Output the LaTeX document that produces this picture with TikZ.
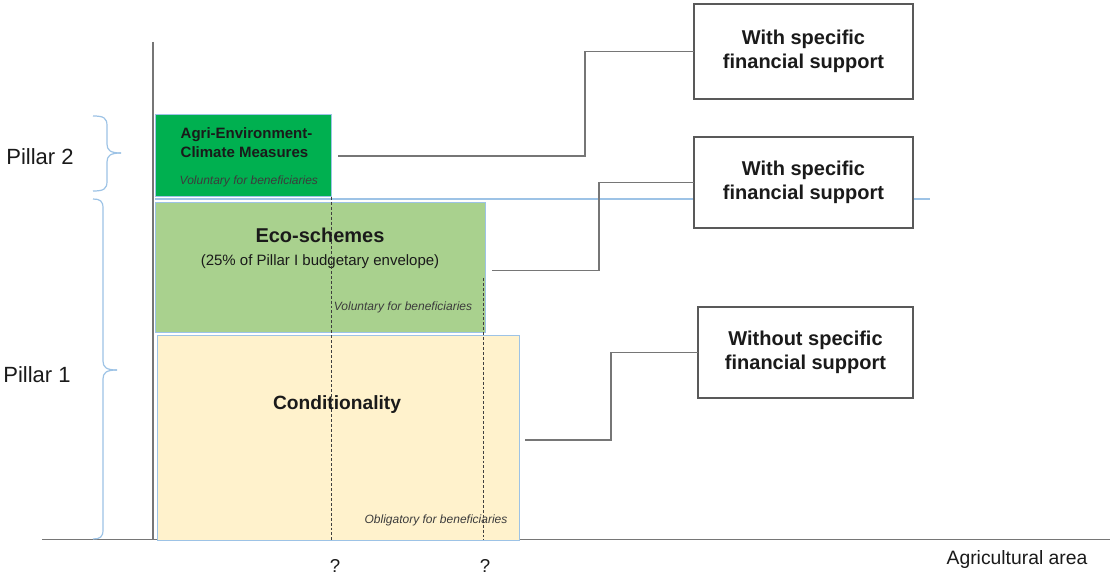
\documentclass[tikz,border=0pt]{standalone}
\usepackage{fontspec}
\setmainfont{Liberation Sans}
\usetikzlibrary{calc}
\definecolor{aecmgreen}{HTML}{00B050}
\definecolor{ecogreen}{HTML}{A9D18E}
\definecolor{condyellow}{HTML}{FFF2CC}
\definecolor{edgeblue}{HTML}{9DC3E6}
\definecolor{linegray}{HTML}{767676}
\definecolor{boxgray}{HTML}{595959}
\definecolor{guidegray}{HTML}{3F3F3F}
\definecolor{txt}{HTML}{1A1A1A}
\newcommand{\fsz}[2]{\fontsize{#1}{#2}\selectfont}
\begin{document}
\begin{tikzpicture}[x=0.75pt,y=-0.75pt,
  bar/.style={draw=edgeblue,line width=0.75pt,inner sep=0pt,outer sep=0pt},
  supportbox/.style={draw=boxgray,fill=white,line width=0.9pt,inner sep=0pt,outer sep=0pt,align=center,font=\fsz{15}{18}\bfseries,text=txt},
  connector/.style={draw=linegray,line width=1pt},
  bracestyle/.style={draw=edgeblue,line width=0.9pt},
  axisline/.style={draw=linegray,line width=1.1pt},
  guide/.style={draw=guidegray,line width=0.7pt,dash pattern=on 2.2pt off 1.5pt},
  note/.style={font=\fsz{9}{11}\itshape,text=txt!85},
  sidelabel/.style={font=\fsz{16.5}{20},text=txt},
  boldtext/.style={font=\bfseries,text=txt}]
\fill[white] (0,0) rectangle (1110,577);
\useasboundingbox (0,0) rectangle (1110,577);

% axes
\coordinate (ytop) at (153,42);
\coordinate (origin) at (153,540);
\coordinate (xleft) at (42,539.5);
\coordinate (xright) at (1110,539.5);
\draw[axisline] (ytop) -- (origin);
\draw[axisline] (xleft) -- (xright);

% pillar separator line
\coordinate (sepL) at (155,199);
\coordinate (sepR) at (930,199);
\draw[draw=edgeblue,line width=0.8pt] (sepL) -- (sepR);

% bars
\node[bar,fill=aecmgreen,minimum width=132pt,minimum height=61.5pt] (aecm) at (243,156) {};
\node[bar,fill=ecogreen,minimum width=247.5pt,minimum height=96.75pt] (eco) at (320,267.5) {};
\node[bar,fill=condyellow,minimum width=271.5pt,minimum height=153.75pt] (cond) at (338,437.5) {};

% texts in bars
\node[boldtext,anchor=west,align=left,font=\fsz{11.25}{14.25}\bfseries] (aecmtxt) at (176,142.5) {Agri-Environment-\\Climate Measures};
\node[note,anchor=west] (aecmnote) at (175,181) {Voluntary  for beneficiaries};
\node[boldtext,font=\fsz{15}{18}\bfseries] (ecotxt) at (320,235) {Eco-schemes};
\node[text=txt,font=\fsz{11.25}{14}] (ecosub) at (320,262) {(25\% of Pillar I budgetary envelope)};
\node[note] (econote) at (403,307) {Voluntary  for beneficiaries};
\node[boldtext,font=\fsz{14.4}{17}\bfseries] (condtxt) at (337,405) {Conditionality};
\node[note] (condnote) at (436,520) {Obligatory  for beneficiaries};

% dashed guides
\coordinate (g1top) at (331,197);
\coordinate (g1bot) at (331,540);
\coordinate (g2top) at (483,278);
\coordinate (g2bot) at (483,540);
\draw[guide] (g1top) -- (g1bot);
\draw[guide] (g2top) -- (g2bot);
\node[text=txt,font=\fsz{14}{16}] (q1) at (335,566) {?};
\node[text=txt,font=\fsz{14}{16}] (q2) at (485,566) {?};

% support boxes
\node[supportbox,minimum width=164.25pt,minimum height=71.25pt] (r1) at (803.5,51.5) {With specific\\financial support};
\node[supportbox,minimum width=164.25pt,minimum height=68.25pt] (r2) at (803.5,182.5) {With specific\\financial support};
\node[supportbox,minimum width=161.25pt,minimum height=68.25pt] (r3) at (805.5,352.5) {Without specific\\financial support};

% connectors
\draw[connector] ($(aecm.east)+(7,0)$) -- ++(247,0) |- (r1.west);
\draw[connector] ($(eco.east)+(7,3)$) -- ++(107,0) |- (r2.west);
\draw[connector] ($(cond.east)+(6,2.5)$) -- ++(86,0) |- (r3.west);

% braces
\draw[bracestyle] (93,116) .. controls (104,116) and (107,118) .. (107,126) -- (107,144)
   .. controls (107,150) and (110,153) .. (121,153);
\draw[bracestyle] (93,191) .. controls (104,191) and (107,189) .. (107,181) -- (107,162)
   .. controls (107,156) and (110,153) .. (121,153);
\draw[bracestyle] (93,199) .. controls (100,199) and (103,201) .. (103,208) -- (103,361)
   .. controls (103,367) and (106,370) .. (117,370);
\draw[bracestyle] (93,539) .. controls (100,539) and (103,537) .. (103,530) -- (103,379)
   .. controls (103,373) and (106,370) .. (117,370);

% side labels
\node[sidelabel] (p2) at (40,157) {Pillar 2};
\node[sidelabel] (p1) at (37,375) {Pillar 1};
\node[text=txt,font=\fsz{14.5}{17}] (xlab) at (1017,559) {Agricultural area};
\end{tikzpicture}
\end{document}
